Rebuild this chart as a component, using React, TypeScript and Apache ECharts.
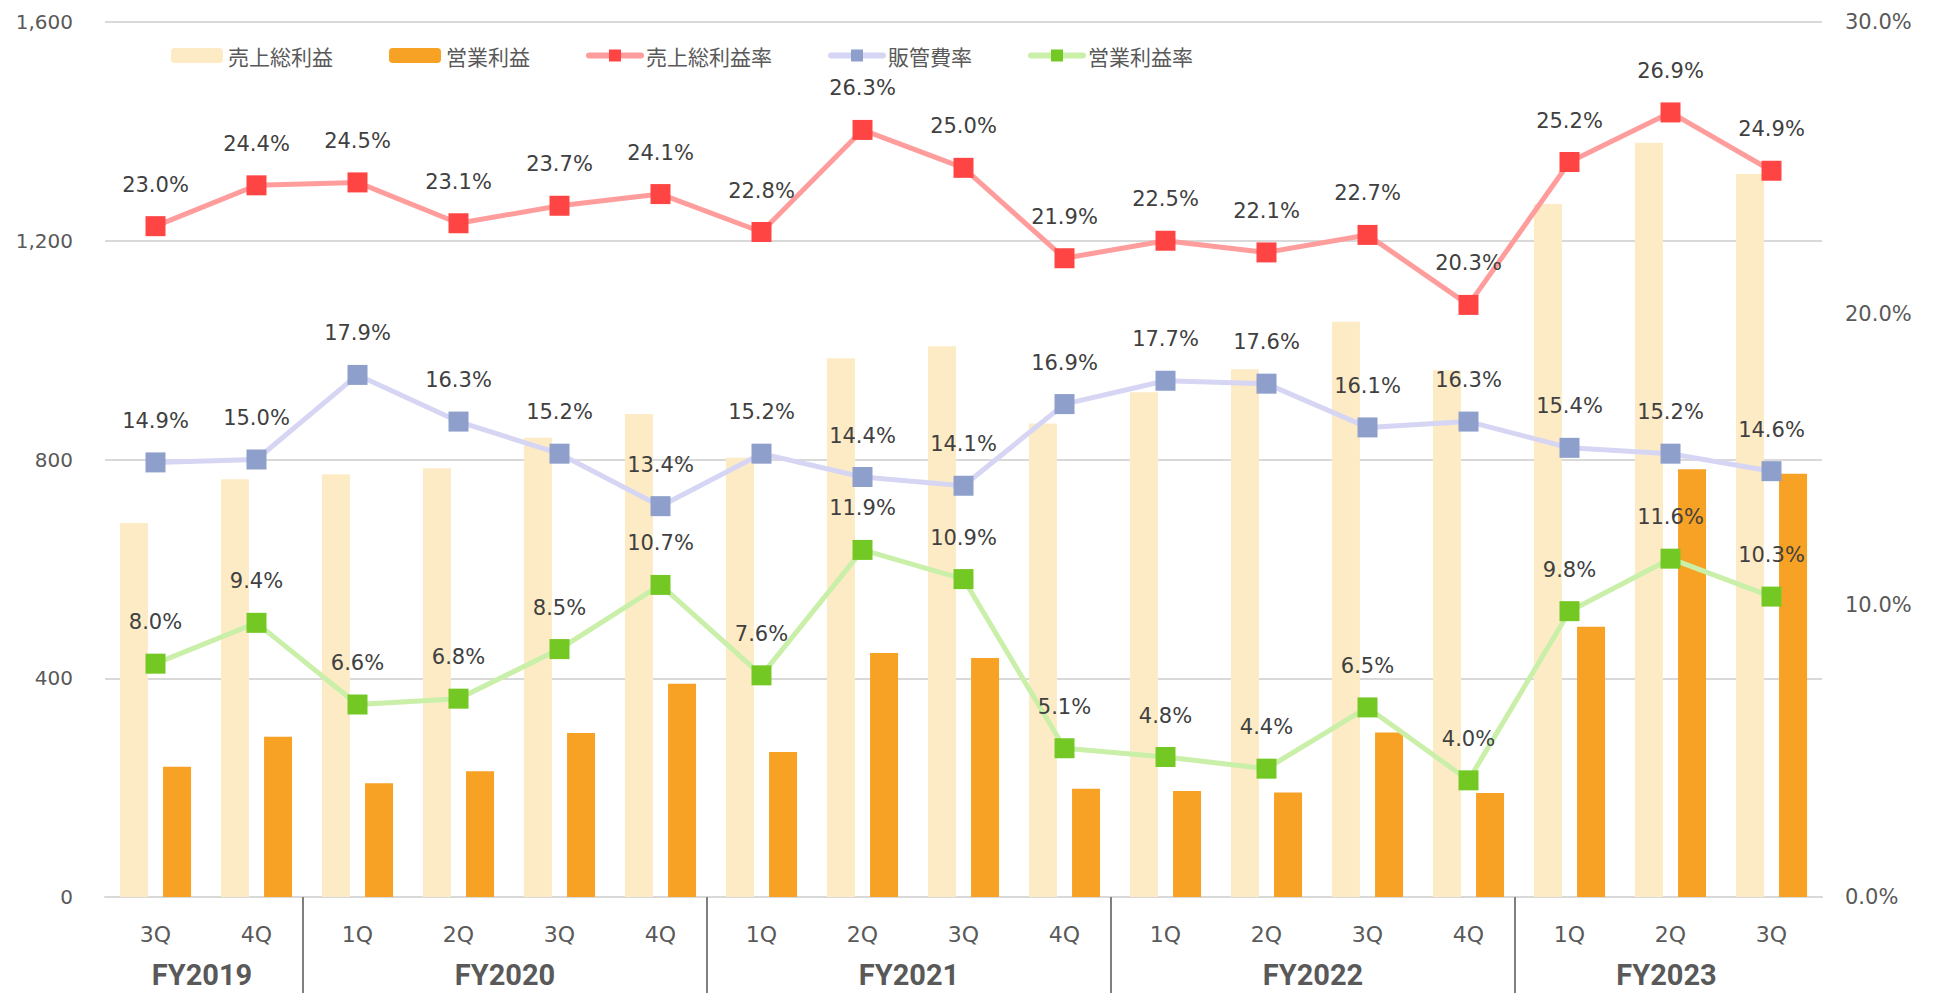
import React, { useEffect, useRef } from "react";
import * as echarts from "echarts";

const categories = ["3Q", "4Q", "1Q", "2Q", "3Q", "4Q", "1Q", "2Q", "3Q", "4Q", "1Q", "2Q", "3Q", "4Q", "1Q", "2Q", "3Q"];
const fiscalYears = ["FY2019", "FY2020", "FY2021", "FY2022", "FY2023"];
const quartersPerYear = [2, 4, 4, 4, 3];

const grossProfit = [684, 764, 773, 784, 840, 883, 803, 985, 1007, 866, 923, 965, 1052, 963, 1267, 1379, 1322];
const operatingProfit = [238, 293, 208, 230, 300, 390, 265, 446, 437, 198, 194, 191, 301, 190, 494, 782, 774];
const grossMargin = [23.0, 24.4, 24.5, 23.1, 23.7, 24.1, 22.8, 26.3, 25.0, 21.9, 22.5, 22.1, 22.7, 20.3, 25.2, 26.9, 24.9];
const sgaRatio = [14.9, 15.0, 17.9, 16.3, 15.2, 13.4, 15.2, 14.4, 14.1, 16.9, 17.7, 17.6, 16.1, 16.3, 15.4, 15.2, 14.6];
const operatingMargin = [8.0, 9.4, 6.6, 6.8, 8.5, 10.7, 7.6, 11.9, 10.9, 5.1, 4.8, 4.4, 6.5, 4.0, 9.8, 11.6, 10.3];

const leftTicks = { min: 0, max: 1600, interval: 400 };
const rightTicks = { min: 0, max: 30, interval: 10 };

const TEXT = "#595959";
const LABEL = "#404040";
const FONT = "DejaVu Sans";

export default function App() {
  const ref = useRef<HTMLDivElement>(null);

  useEffect(() => {
    document.body.style.margin = "0";
    if (!ref.current) return;
    const chart = echarts.init(ref.current, null, { renderer: "svg" });

    const groupData: number[][] = [];
    let s = 0;
    quartersPerYear.forEach((c) => {
      groupData.push([s, 0, c]);
      s += c;
    });

    const lineLabel = {
      show: true,
      position: "top",
      distance: 21,
      color: LABEL,
      fontFamily: FONT,
      fontSize: 21,
      formatter: (p: any) => Number(p.value).toFixed(1) + "%",
    };

    const mkLine = (name: string, data: number[], lineColor: string, markColor: string) => ({
      name,
      type: "line",
      yAxisIndex: 1,
      data,
      symbol: "rect",
      symbolSize: 20,
      showSymbol: true,
      lineStyle: { color: lineColor, width: 5 },
      itemStyle: { color: markColor },
      label: lineLabel,
      z: 3,
    });

    chart.setOption({
      animation: false,
      grid: { left: 105, right: 111, top: 22, bottom: 96, containLabel: false },
      legend: {
        data: ["売上総利益", "営業利益", "売上総利益率", "販管費率", "営業利益率"],
        left: 166,
        top: 40,
        itemWidth: 52,
        itemHeight: 15,
        itemGap: 56,
        lineStyle: { width: 6, cap: "round" },
        textStyle: { color: TEXT, fontSize: 21, fontFamily: "Noto Sans CJK JP" },
      },
      xAxis: {
        type: "category",
        data: categories,
        axisLine: { show: true, lineStyle: { color: "#D9D9D9", width: 2 } },
        axisTick: { show: false },
        axisLabel: { color: TEXT, fontFamily: FONT, fontSize: 22, margin: 26 },
      },
      yAxis: [
        {
          type: "value",
          ...leftTicks,
          axisLine: { show: false },
          axisTick: { show: false },
          splitLine: { lineStyle: { color: "#D9D9D9", width: 2 } },
          axisLabel: {
            color: TEXT,
            fontFamily: FONT,
            fontSize: 20,
            margin: 32,
            formatter: (v: number) => v.toLocaleString("en-US"),
          },
        },
        {
          type: "value",
          ...rightTicks,
          axisLine: { show: false },
          axisTick: { show: false },
          splitLine: { show: false },
          axisLabel: {
            color: TEXT,
            fontFamily: FONT,
            fontSize: 21,
            margin: 23,
            formatter: (v: number) => v.toFixed(1) + "%",
          },
        },
      ],
      series: [
        {
          name: "売上総利益",
          type: "bar",
          data: grossProfit,
          barWidth: 28,
          barGap: "54%",
          itemStyle: { color: "#FDEBC6" },
          legendIcon: "rect",
        },
        {
          name: "営業利益",
          type: "bar",
          data: operatingProfit,
          barWidth: 28,
          barGap: "54%",
          itemStyle: { color: "#F7A125" },
          legendIcon: "rect",
        },
        mkLine("売上総利益率", grossMargin, "#FF9C9C", "#FF4444"),
        mkLine("販管費率", sgaRatio, "#D6D6F4", "#8E9FCB"),
        mkLine("営業利益率", operatingMargin, "#C9EFA8", "#74C824"),
        {
          name: "fy",
          type: "custom",
          xAxisIndex: 0,
          yAxisIndex: 0,
          data: groupData,
          encode: { x: 0, y: 1 },
          clip: false,
          silent: true,
          z: 5,
          renderItem: (params: any, api: any) => {
            const start = api.value(0);
            const count = api.value(2);
            const band = api.size([1, 0])[0];
            const p0 = api.coord([start, 0]);
            const p1 = api.coord([start + count - 1, 0]);
            const left = p0[0] - band / 2 - 4;
            const right = p1[0] + band / 2 - 4;
            const y0 = p0[1];
            const children: any[] = [
              {
                type: "text",
                x: (left + right) / 2,
                y: y0 + 78,
                style: {
                  text: fiscalYears[params.dataIndex],
                  fill: TEXT,
                  fontFamily: "Roboto",
                  fontWeight: "bold",
                  fontSize: 29,
                  align: "center",
                  verticalAlign: "middle",
                },
              },
            ];
            if (start > 0) {
              children.push({
                type: "line",
                shape: { x1: left, y1: y0, x2: left, y2: y0 + 100 },
                style: { stroke: "#7F7F7F", lineWidth: 2 },
              });
            }
            return { type: "group", children };
          },
        },
      ],
    });

    return () => chart.dispose();
  }, []);

  return <div ref={ref} style={{ position: "absolute", left: 0, top: 0, width: 1933, height: 993 }} />;
}
